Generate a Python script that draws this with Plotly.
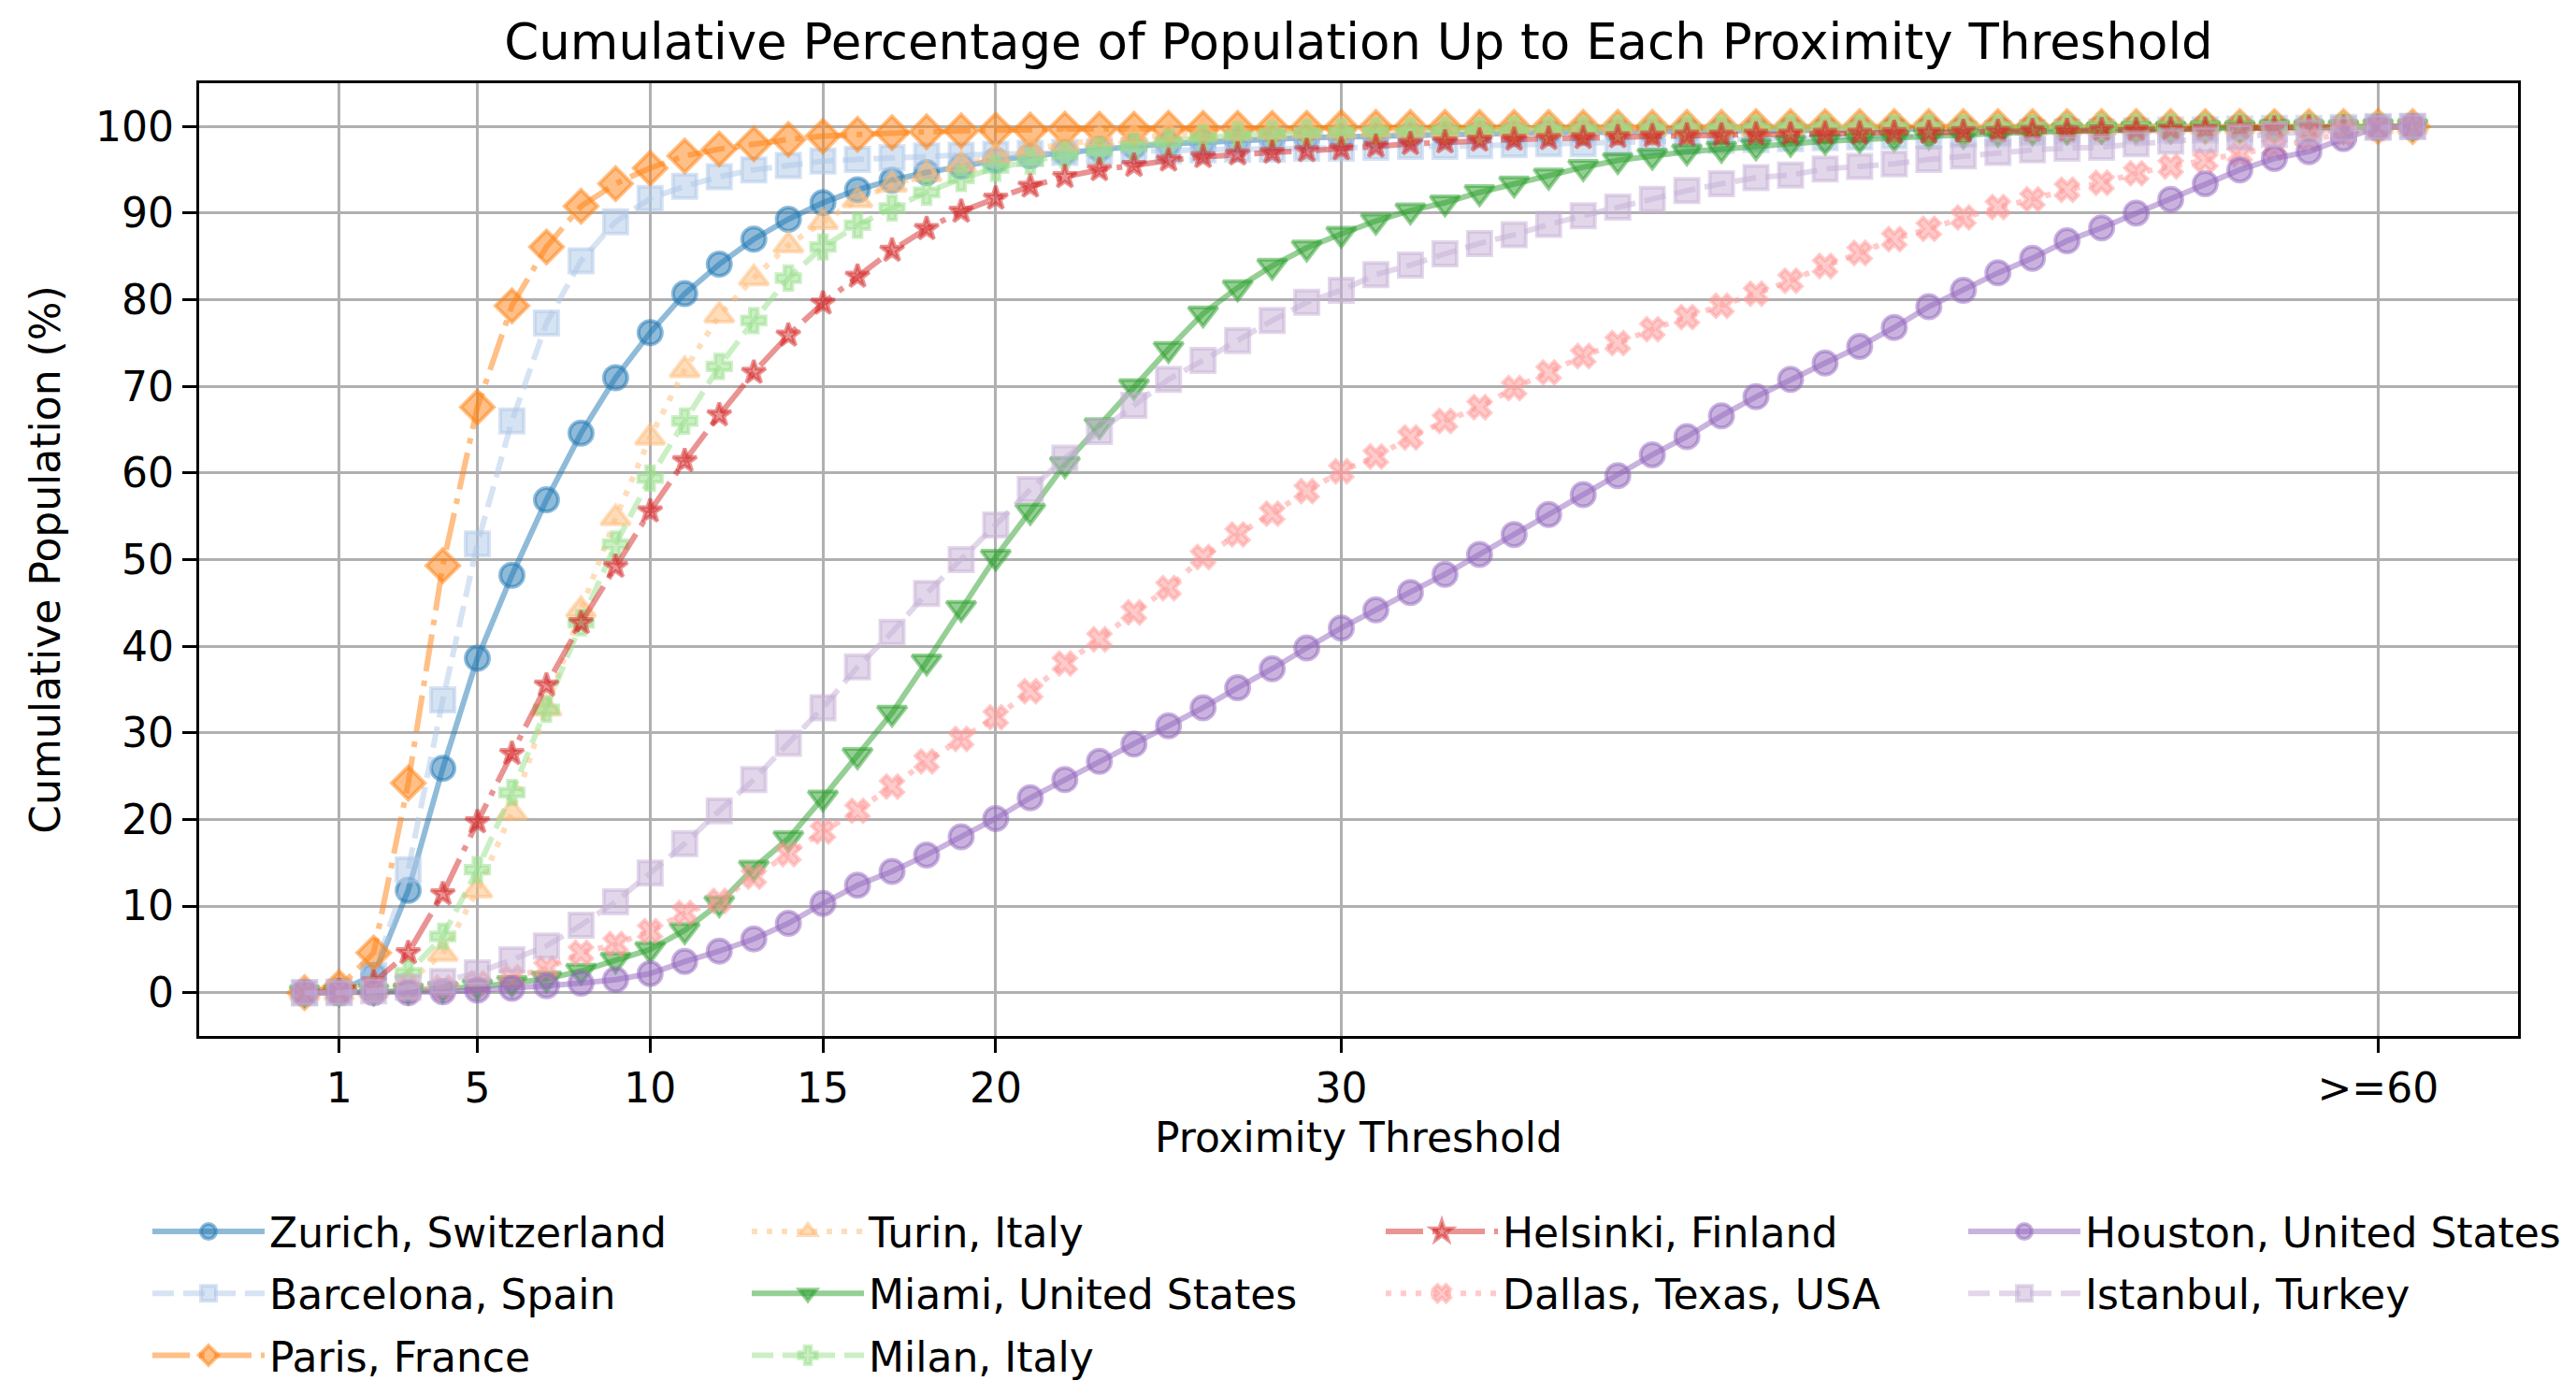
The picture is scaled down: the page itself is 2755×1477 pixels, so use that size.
import plotly.graph_objects as go

# Proximity thresholds (minutes); the last point is the open-ended ">=60" bucket
thresholds = [0, 1, 2, 3, 4, 5, 6, 7, 8, 9, 10, 11, 12, 13, 14, 15, 16, 17, 18, 19,
              20, 21, 22, 23, 24, 25, 26, 27, 28, 29, 30, 31, 32, 33, 34, 35, 36, 37, 38, 39,
              40, 41, 42, 43, 44, 45, 46, 47, 48, 49, 50, 51, 52, 53, 54, 55, 56, 57, 58, 59,
              60, 61]
tick_values = [1, 5, 10, 15, 20, 30, 60]
tick_labels = ["1", "5", "10", "15", "20", "30", ">=60"]

# Cumulative share of population (%) reached at each threshold
zurich = [0, 0.2, 2.0, 11.8, 25.9, 38.6, 48.2, 56.9, 64.6, 71.0, 76.2, 80.7, 84.1, 87.0, 89.3, 91.2,
          92.7, 93.8, 94.7, 95.4, 96.1, 96.6, 97.0, 97.4, 97.7, 98.0, 98.2, 98.4, 98.6, 98.7, 98.8,
          98.9, 99.0, 99.1, 99.2, 99.2, 99.3, 99.3, 99.4, 99.4, 99.5, 99.5, 99.5, 99.6, 99.6, 99.6,
          99.7, 99.7, 99.7, 99.7, 99.8, 99.8, 99.8, 99.8, 99.8, 99.9, 99.9, 99.9, 99.9, 99.9, 100, 100]
barcelona = [0, 0.1, 2.0, 14.2, 33.8, 51.8, 66.0, 77.3, 84.5, 89.0, 91.7, 93.1, 94.2, 95.0, 95.5, 96.0,
             96.2, 96.4, 96.6, 96.7, 96.8, 96.9, 97.0, 97.1, 97.2, 97.2, 97.3, 97.4, 97.4, 97.5, 97.5,
             97.6, 97.7, 97.7, 97.8, 97.9, 98.0, 98.0, 98.1, 98.2, 98.3, 98.4, 98.5, 98.6, 98.7, 98.8,
             98.9, 99.0, 99.1, 99.2, 99.3, 99.4, 99.4, 99.5, 99.6, 99.6, 99.7, 99.8, 99.8, 99.9, 100, 100]
paris = [0, 0.6, 4.6, 24.2, 49.3, 67.6, 79.3, 86.1, 90.8, 93.4, 95.2, 96.6, 97.4, 98.0, 98.5, 98.9,
         99.1, 99.3, 99.4, 99.5, 99.6, 99.6, 99.7, 99.7, 99.7, 99.8, 99.8, 99.8, 99.8, 99.8, 99.9,
         99.9, 99.9, 99.9, 99.9, 99.9, 99.9, 99.9, 99.9, 99.9, 99.9, 99.9, 100, 100, 100, 100,
         100, 100, 100, 100, 100, 100, 100, 100, 100, 100, 100, 100, 100, 100, 100, 100]
turin = [0, 0, 0.3, 1.2, 4.5, 11.8, 20.8, 32.8, 44.2, 54.8, 64.1, 71.9, 78.2, 82.5, 86.3, 89.0,
         91.5, 93.3, 94.5, 95.6, 96.6, 97.4, 98.0, 98.5, 98.8, 99.0, 99.2, 99.3, 99.4, 99.5, 99.5,
         99.6, 99.6, 99.6, 99.7, 99.7, 99.7, 99.7, 99.8, 99.8, 99.8, 99.8, 99.8, 99.8, 99.9, 99.9,
         99.9, 99.9, 99.9, 99.9, 99.9, 99.9, 99.9, 100, 100, 100, 100, 100, 100, 100, 100, 100]
miami = [0, 0, 0.1, 0.2, 0.4, 0.7, 1.1, 1.6, 2.5, 3.8, 5.0, 7.2, 10.3, 14.4, 17.8, 22.5,
         27.4, 32.3, 38.2, 44.4, 50.3, 55.6, 61.0, 65.5, 70.0, 74.3, 78.4, 81.4, 83.9, 86.0, 87.6,
         89.1, 90.3, 91.2, 92.4, 93.4, 94.3, 95.3, 96.1, 96.6, 97.1, 97.4, 97.7, 98.1, 98.3, 98.5,
         98.7, 98.9, 99.0, 99.2, 99.4, 99.5, 99.6, 99.7, 99.7, 99.8, 99.8, 99.9, 99.9, 99.9, 100, 100]
milan = [0, 0, 0.5, 2.3, 6.5, 14.2, 23.1, 32.7, 42.7, 51.8, 59.4, 66.0, 72.3, 77.6, 82.5, 86.1,
         88.6, 90.6, 92.4, 94.0, 95.2, 96.0, 96.7, 97.2, 97.7, 98.2, 98.7, 99.0, 99.2, 99.3, 99.4,
         99.5, 99.5, 99.6, 99.6, 99.7, 99.7, 99.7, 99.8, 99.8, 99.8, 99.8, 99.8, 99.9, 99.9, 99.9,
         99.9, 99.9, 99.9, 99.9, 99.9, 100, 100, 100, 100, 100, 100, 100, 100, 100, 100, 100]
helsinki = [0, 0.2, 1.2, 4.6, 11.4, 19.7, 27.6, 35.5, 42.7, 49.2, 55.6, 61.4, 66.7, 71.6, 75.9, 79.6,
            82.7, 85.7, 88.2, 90.2, 91.7, 93.1, 94.2, 95.0, 95.5, 96.1, 96.5, 96.8, 97.0, 97.2, 97.4,
            97.7, 98.0, 98.2, 98.4, 98.5, 98.6, 98.7, 98.8, 98.9, 99.0, 99.0, 99.1, 99.1, 99.2, 99.2,
            99.3, 99.3, 99.4, 99.4, 99.5, 99.5, 99.6, 99.6, 99.7, 99.7, 99.8, 99.8, 99.9, 99.9, 100, 100]
dallas = [0, 0, 0.1, 0.3, 0.6, 1.1, 1.8, 2.8, 4.6, 5.6, 7.1, 9.2, 10.6, 13.4, 16.0, 18.6,
          21.0, 23.8, 26.7, 29.3, 31.8, 34.8, 38.0, 40.8, 43.9, 46.7, 50.3, 52.9, 55.3, 57.9, 60.2,
          61.9, 64.1, 66.0, 67.6, 69.8, 71.6, 73.5, 75.0, 76.6, 78.0, 79.3, 80.7, 82.2, 83.9, 85.4,
          87.0, 88.2, 89.5, 90.7, 91.6, 92.7, 93.5, 94.6, 95.4, 96.1, 96.8, 97.6, 98.5, 99.2, 99.8, 100]
houston = [0, 0, 0, 0, 0.1, 0.3, 0.5, 0.8, 1.1, 1.5, 2.2, 3.6, 4.8, 6.2, 8.0, 10.3,
           12.4, 14.0, 15.9, 18.0, 20.1, 22.5, 24.6, 26.7, 28.7, 30.8, 32.9, 35.2, 37.4, 39.8, 42.1,
           44.2, 46.2, 48.3, 50.6, 52.9, 55.2, 57.5, 59.7, 62.1, 64.2, 66.6, 68.8, 70.8, 72.7, 74.6,
           76.8, 79.2, 81.1, 83.1, 84.8, 86.8, 88.3, 90.0, 91.6, 93.4, 95.0, 96.3, 97.1, 98.6, 99.9, 100]
istanbul = [0, 0, 0.2, 0.6, 1.3, 2.3, 3.8, 5.4, 7.8, 10.5, 13.8, 17.2, 21.0, 24.6, 28.8, 32.9,
            37.6, 41.6, 46.1, 50.0, 54.0, 58.1, 61.7, 64.8, 67.8, 70.8, 73.0, 75.3, 77.6, 79.7, 81.1,
            82.9, 84.0, 85.3, 86.5, 87.5, 88.7, 89.7, 90.7, 91.6, 92.6, 93.4, 94.1, 94.4, 95.1, 95.4,
            95.7, 96.2, 96.6, 97.0, 97.3, 97.5, 97.6, 98.0, 98.3, 98.5, 98.8, 99.1, 99.4, 99.7, 99.9, 100]

city_names = ["Zurich, Switzerland", "Barcelona, Spain", "Paris, France", "Turin, Italy",
              "Miami, United States", "Milan, Italy", "Helsinki, Finland", "Dallas, Texas, USA",
              "Houston, United States", "Istanbul, Turkey"]
city_values = [zurich, barcelona, paris, turin, miami, milan, helsinki, dallas, houston, istanbul]

# tab20-style palette, marker cycle and line-style cycle
colors = ["#1f77b4", "#aec7e8", "#ff7f0e", "#ffbb78", "#2ca02c",
          "#98df8a", "#d62728", "#ff9896", "#9467bd", "#c5b0d5"]
symbols = ["circle", "square", "diamond", "triangle-up", "triangle-down",
           "cross", "star", "x", "circle", "square"]
sizes = [25, 25, 27, 27, 27, 21, 19, 21, 25, 25]
SOLID, DASHED, DASHDOT, DOTTED = "solid", "23px,10px", "40px,10px,6px,10px", "6px,10px"
dashes = [SOLID, DASHED, DASHDOT, DOTTED, SOLID, DASHED, DASHDOT, DOTTED, SOLID, DASHED]
legend_ids = ["legend", "legend", "legend", "legend2", "legend2", "legend2",
              "legend3", "legend3", "legend4", "legend4"]

ALPHA = 0.5
FONT = "DejaVu Sans"
TEXT_SIZE = 44
TITLE_SIZE = 53


def rgba(hex_color, alpha):
    h = hex_color.lstrip("#")
    r, g, b = int(h[0:2], 16), int(h[2:4], 16), int(h[4:6], 16)
    return f"rgba({r},{g},{b},{alpha})"


fig = go.Figure()
for name, vals, col, sym, sz, dash, leg in zip(city_names, city_values, colors, symbols,
                                                sizes, dashes, legend_ids):
    fig.add_trace(go.Scatter(
        x=thresholds, y=vals, name=name, mode="lines+markers",
        line=dict(color=rgba(col, ALPHA), width=6, dash=dash),
        marker=dict(symbol=sym, size=sz, color=rgba(col, ALPHA),
                    line=dict(color=rgba(col, ALPHA), width=4)),
        legend=leg, legendgroup=name,
    ))

W, H = 2755, 1477
ML, MR, MT, MB = 213, 62, 89, 369
plot_w = W - ML - MR
plot_h = H - MT - MB


def legend_box(text_left_px):
    item_w = 120
    x_px = text_left_px - (item_w + 10)
    return dict(
        x=(x_px - ML) / plot_w, xanchor="left", xref="paper",
        y=(H - MB - 1282) / plot_h, yanchor="top", yref="paper",
        orientation="v", itemwidth=item_w, tracegroupgap=6,
        font=dict(family=FONT, size=TEXT_SIZE, color="black"),
        bgcolor="rgba(255,255,255,0)", borderwidth=0,
    )


axis_common = dict(
    showline=True, linecolor="black", linewidth=3.3, mirror=True,
    ticks="outside", ticklen=15, tickwidth=3.3, tickcolor="black",
    showgrid=True, gridcolor="#b0b0b0", gridwidth=3.3, zeroline=False,
    tickfont=dict(family=FONT, size=TEXT_SIZE, color="black"),
)

fig.update_layout(
    width=W, height=H,
    margin=dict(l=ML, r=MR, t=MT, b=MB, autoexpand=False),
    paper_bgcolor="white", plot_bgcolor="white",
    font=dict(family=FONT, color="black"),
    title=dict(text="Cumulative Percentage of Population Up to Each Proximity Threshold",
               x=0.5, xref="paper", xanchor="center",
               y=1 - 44 / H, yref="container", yanchor="middle",
               font=dict(family=FONT, size=TITLE_SIZE, color="black")),
    xaxis=dict(range=[-3.05, 64.05], tickmode="array", tickvals=tick_values,
               ticktext=tick_labels,
               title=dict(text="Proximity Threshold", standoff=14,
                          font=dict(family=FONT, size=TEXT_SIZE, color="black")),
               **axis_common),
    yaxis=dict(range=[-5, 105], tickmode="array",
               tickvals=[0, 10, 20, 30, 40, 50, 60, 70, 80, 90, 100],
               title=dict(text="Cumulative Population (%)", standoff=24,
                          font=dict(family=FONT, size=TEXT_SIZE, color="black")),
               **axis_common),
    legend=legend_box(288),
    legend2=legend_box(929),
    legend3=legend_box(1607),
    legend4=legend_box(2230),
)

fig.write_html("out.html")
